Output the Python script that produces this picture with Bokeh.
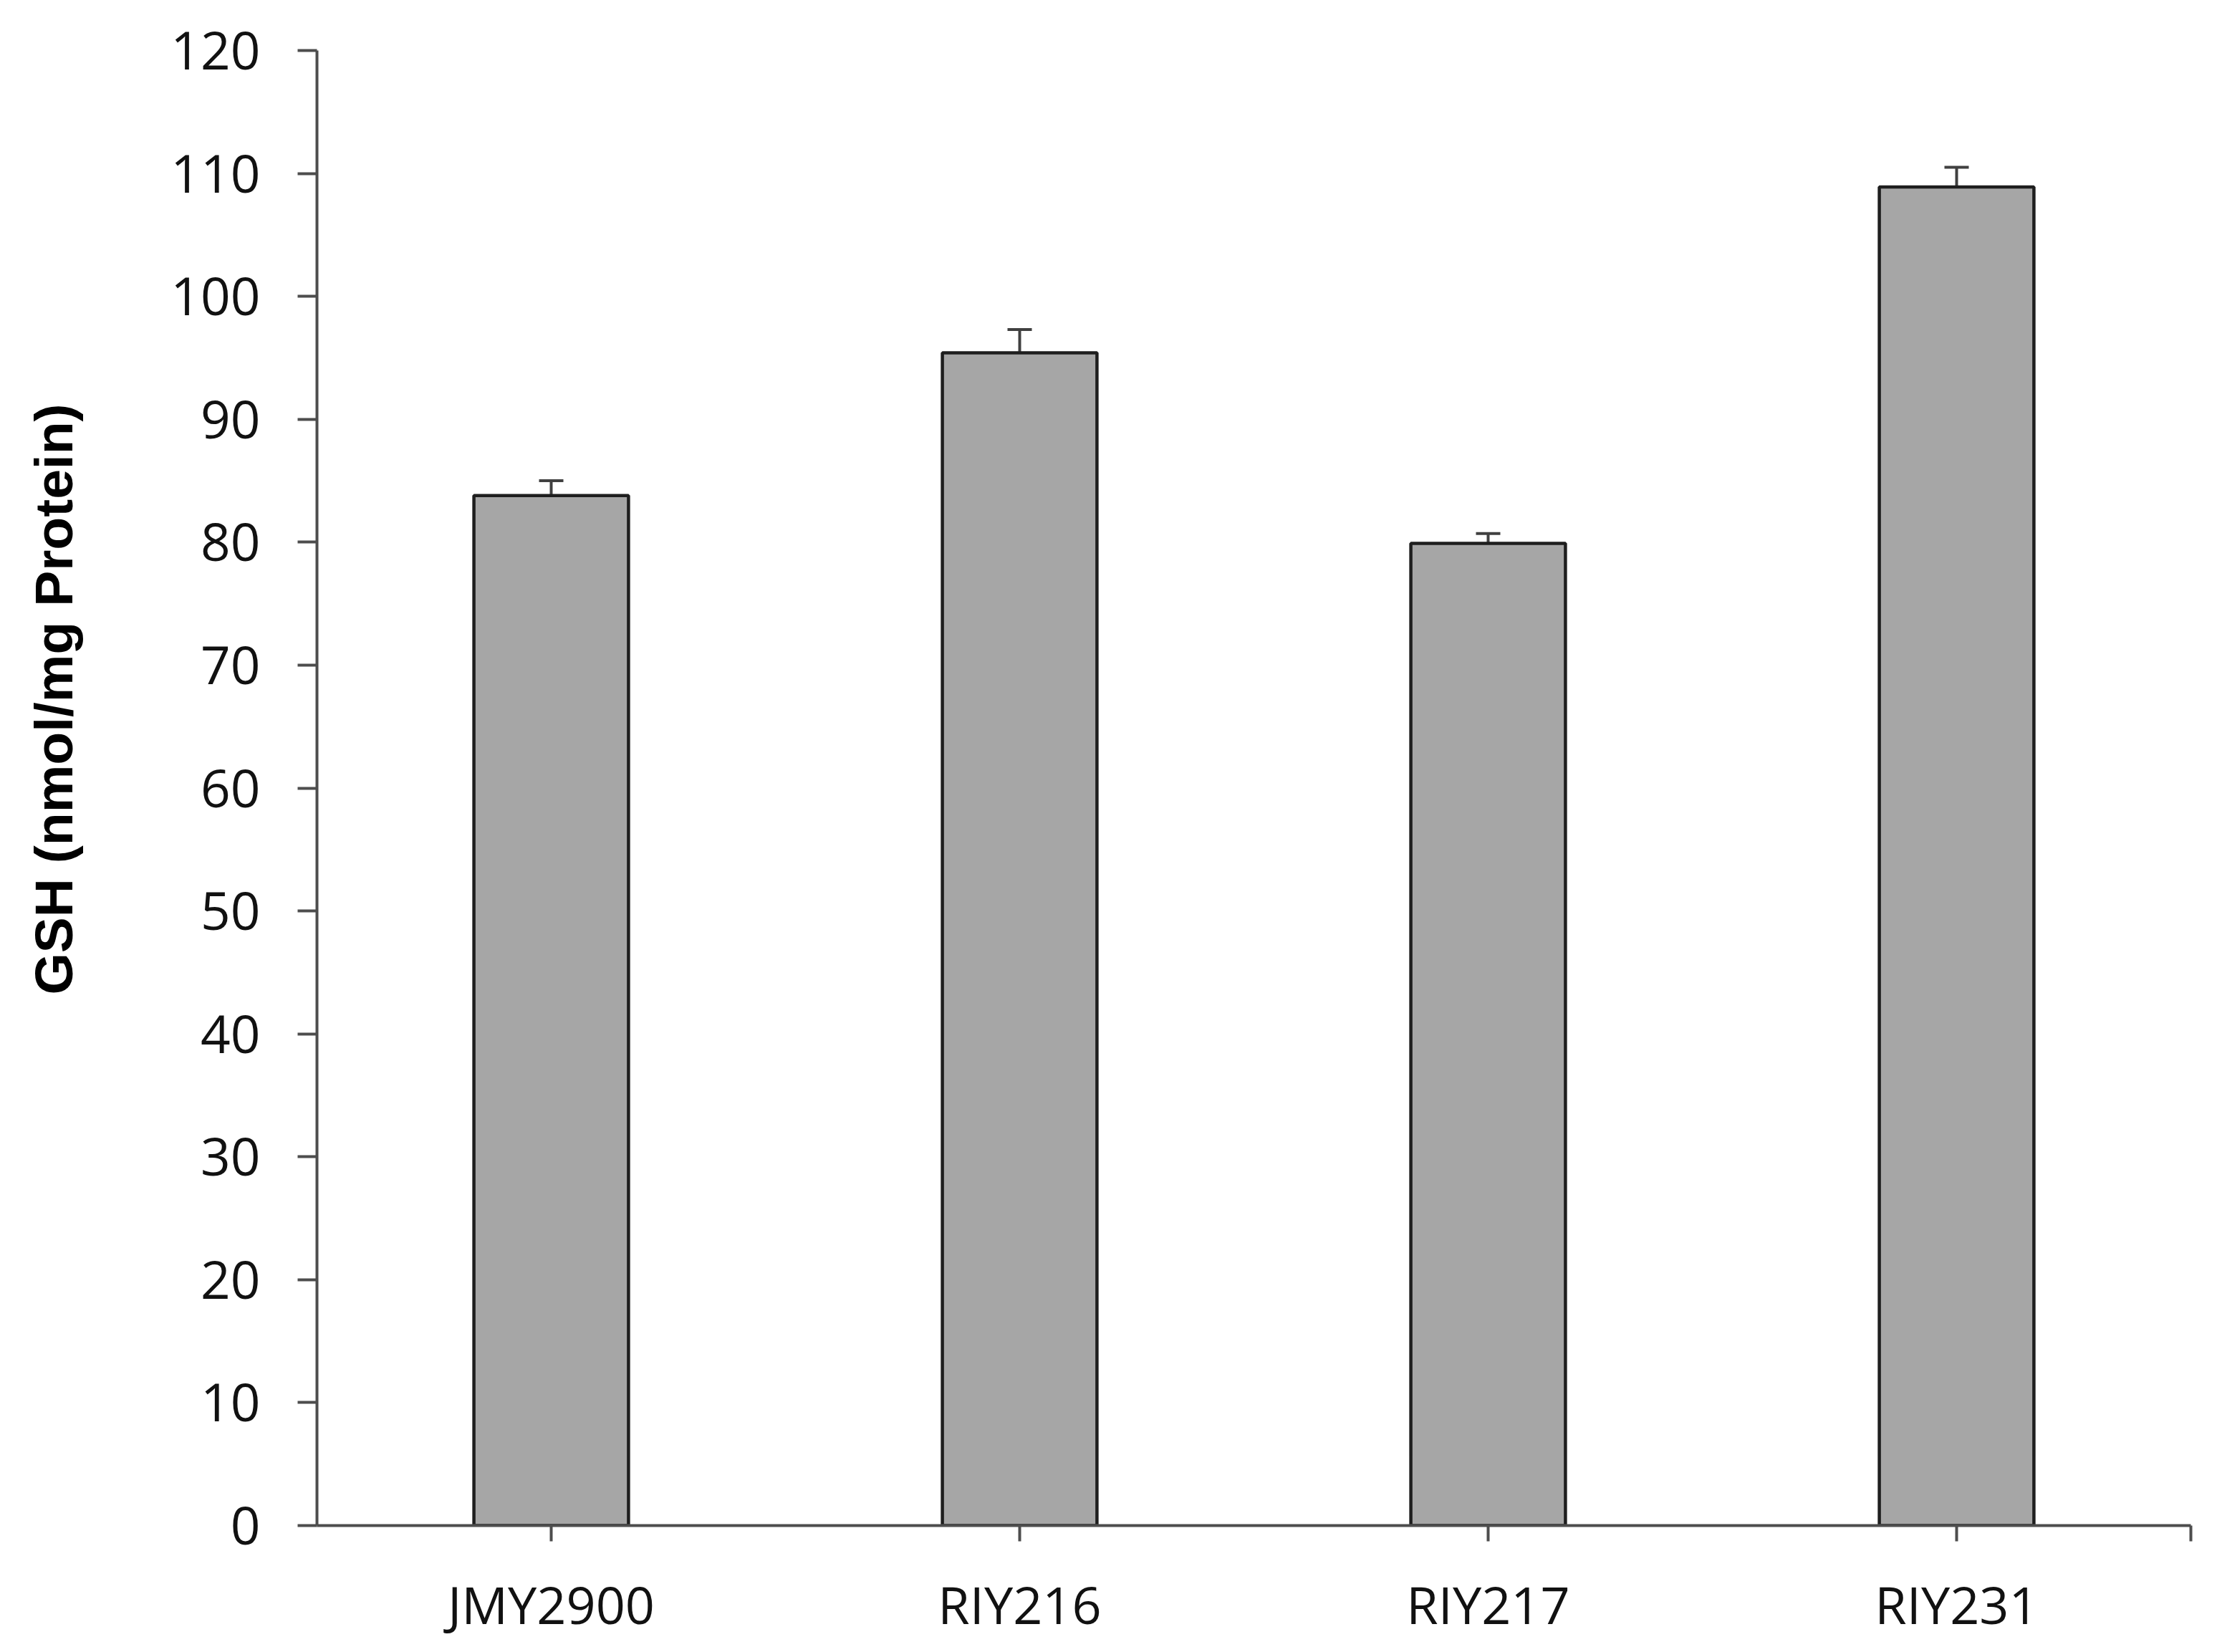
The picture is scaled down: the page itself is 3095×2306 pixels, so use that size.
from bokeh.plotting import figure
from bokeh.models import (Range1d, FixedTicker, Whisker, ColumnDataSource, TeeHead,
                          Title, LinearAxis)
from bokeh.embed import file_html
from bokeh.resources import INLINE

# ---- data ----
strains = ["JMY2900", "RIY216", "RIY217", "RIY231"]
gsh = [83.8, 95.4, 79.9, 108.9]
gsh_err = [1.2, 1.9, 0.8, 1.6]
y_ticks = [0, 10, 20, 30, 40, 50, 60, 70, 80, 90, 100, 110, 120]
y_label = "GSH (nmol/mg Protein)"

x = list(range(len(strains)))
upper = [v + e for v, e in zip(gsh, gsh_err)]
src = ColumnDataSource(dict(x=x, top=gsh, upper=upper))

p = figure(width=3080, height=2290, output_backend="svg", toolbar_location=None,
           x_range=Range1d(-0.5, len(strains) - 0.5),
           y_range=Range1d(y_ticks[0], y_ticks[-1]),
           min_border_left=442, min_border_right=22,
           min_border_top=70, min_border_bottom=153)
p.outline_line_color = None
p.xgrid.visible = False
p.ygrid.visible = False
p.background_fill_color = "white"
p.border_fill_color = "white"

p.vbar(x="x", top="top", bottom=0, width=0.33, source=src,
       fill_color="#A6A6A6", line_color="#1e1e1e", line_width=4.5)

p.add_layout(Whisker(source=src, base="x", lower="top", upper="upper",
                     line_color="#404040", line_width=4,
                     upper_head=TeeHead(size=34, line_color="#404040", line_width=4),
                     lower_head=None))

axis_color = "#4d4d4d"
tick_font = "Open Sans"

# y axis
ya = p.yaxis[0]
ya.ticker = FixedTicker(ticks=y_ticks)
ya.axis_line_color = axis_color
ya.axis_line_width = 4
ya.major_tick_line_color = axis_color
ya.major_tick_line_width = 4
ya.major_tick_out = 27
ya.major_tick_in = 0
ya.minor_tick_line_color = None
ya.major_label_text_font = tick_font
ya.major_label_text_font_size = "73px"
ya.major_label_text_color = "#111111"
ya.major_label_standoff = 52

# blank spacer axis (white on white): keeps the y title at the reference's distance
spacer = LinearAxis(ticker=FixedTicker(ticks=[y_ticks[0]]), axis_line_color=None,
                    major_tick_line_color="white", major_tick_line_width=1,
                    minor_tick_line_color=None,
                    major_tick_out=114, major_tick_in=0, minor_tick_out=0,
                    major_label_standoff=0, major_label_overrides={y_ticks[0]: ""},
                    major_label_text_font_size="1px")
p.add_layout(spacer, "left")

# y-axis title, placed toward the upper part of the axis as in the reference
p.add_layout(Title(text=y_label, align="right", offset=493, standoff=10,
                   text_font="Liberation Sans", text_font_style="bold",
                   text_font_size="75px", text_color="#000000"), "left")

# x axis
xa = p.xaxis[0]
end_tick = len(strains) - 0.5
xa.ticker = FixedTicker(ticks=x + [end_tick])
overrides = {i: s for i, s in zip(x, strains)}
overrides[end_tick] = ""
xa.major_label_overrides = overrides
xa.axis_line_color = axis_color
xa.axis_line_width = 4
xa.major_tick_line_color = axis_color
xa.major_tick_line_width = 4
xa.major_tick_out = 22
xa.major_tick_in = 0
xa.minor_tick_line_color = None
xa.major_label_text_font = tick_font
xa.major_label_text_font_size = "72px"
xa.major_label_text_color = "#111111"
xa.major_label_standoff = 38

open("out.html", "w").write(file_html(p, INLINE))
